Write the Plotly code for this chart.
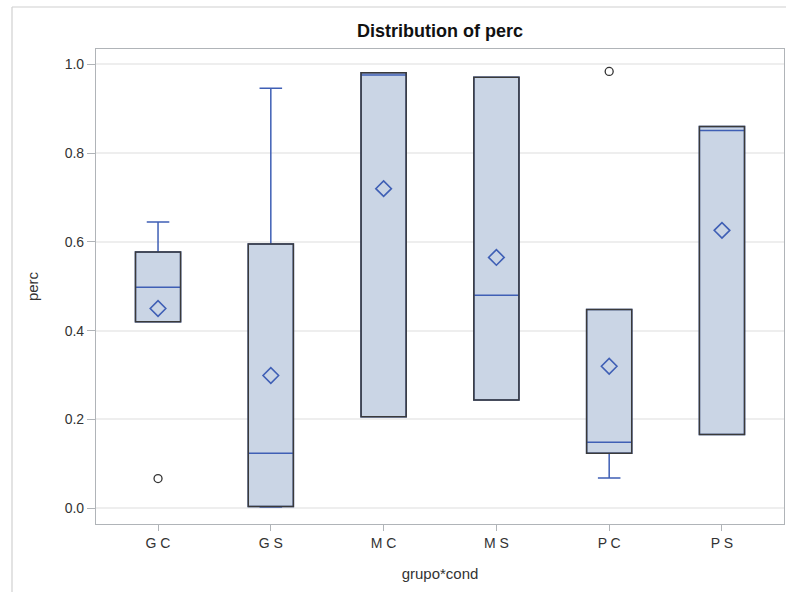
import plotly.graph_objects as go

# Summary statistics of perc per grupo*cond
groups = ["G C", "G S", "M C", "M S", "P C", "P S"]
q1 = [0.420, 0.004, 0.206, 0.244, 0.124, 0.166]
median = [0.498, 0.124, 0.976, 0.480, 0.149, 0.851]
q3 = [0.577, 0.595, 0.981, 0.971, 0.448, 0.860]
lower_fence = [0.420, 0.003, 0.206, 0.244, 0.068, 0.166]
upper_fence = [0.645, 0.946, 0.981, 0.971, 0.448, 0.860]
means = [0.450, 0.299, 0.720, 0.565, 0.320, 0.626]

# Outlying observations
outlier_groups = ["G C", "P C"]
outlier_values = [0.067, 0.984]

FONT = "Liberation Sans, Arial, sans-serif"
BLUE = "#3F5FB5"
FILL = "#CAD5E5"
EDGE = "#3A3A3A"
AXIS = "#B0B4B8"
BOX_W = 0.4

fig = go.Figure()

fig.add_trace(go.Box(
    x=groups,
    q1=q1, median=median, q3=q3,
    lowerfence=lower_fence, upperfence=upper_fence,
    width=BOX_W, whiskerwidth=0.5,
    fillcolor=FILL,
    line=dict(color=BLUE, width=1.5),
    boxpoints=False,
    showlegend=False,
))

# Mean markers
fig.add_trace(go.Scatter(
    x=groups, y=means, mode="markers",
    marker=dict(symbol="diamond-open", size=12, color=BLUE,
                line=dict(color=BLUE, width=1.6)),
    showlegend=False,
))

# Outliers
fig.add_trace(go.Scatter(
    x=outlier_groups, y=outlier_values, mode="markers",
    marker=dict(symbol="circle-open", size=8, color="#333333",
                line=dict(color="#333333", width=1.3)),
    showlegend=False,
))

# Dark outline around each box (median and whiskers stay blue)
shapes = []
for i, (lo, hi) in enumerate(zip(q1, q3)):
    shapes.append(dict(
        type="rect", xref="x", yref="y",
        x0=i - BOX_W / 2, x1=i + BOX_W / 2, y0=lo, y1=hi,
        line=dict(color=EDGE, width=1.5), fillcolor="rgba(0,0,0,0)",
        layer="above",
    ))

# Outer frame of the graph
shapes.append(dict(type="line", xref="paper", yref="paper",
                   x0=(12 - 96) / 688, x1=1.01, y0=(524 - 7) / 475, y1=(524 - 7) / 475,
                   line=dict(color="#D0D0D0", width=1.2)))
shapes.append(dict(type="line", xref="paper", yref="paper",
                   x0=(12 - 96) / 688, x1=(12 - 96) / 688, y0=(524 - 7) / 475, y1=-0.2,
                   line=dict(color="#D0D0D0", width=1.2)))

fig.update_layout(
    width=786, height=592,
    margin=dict(l=96, r=2, t=49, b=68),
    paper_bgcolor="white", plot_bgcolor="white",
    font=dict(family=FONT, size=14, color="#333333"),
    title=dict(text="<b>Distribution of perc</b>", x=0.5, xanchor="center",
               xref="paper", y=1 - 31 / 592, yanchor="middle",
               font=dict(family=FONT, size=18, color="#111111")),
    shapes=shapes,
    xaxis=dict(
        type="category", categoryorder="array", categoryarray=groups,
        range=[-0.55, 5.55],
        showline=True, mirror=True, linecolor=AXIS, linewidth=1.2,
        ticks="outside", ticklen=6, tickcolor=AXIS, tickwidth=1.2,
        showgrid=False, zeroline=False,
        tickfont=dict(family=FONT, size=14, color="#333333"),
        title=dict(text="grupo*cond", standoff=18,
                   font=dict(family=FONT, size=15, color="#333333")),
    ),
    yaxis=dict(
        range=[-0.0354, 1.0345],
        tickvals=[0.0, 0.2, 0.4, 0.6, 0.8, 1.0], tickformat=".1f",
        showline=True, mirror=True, linecolor=AXIS, linewidth=1.2,
        ticks="outside", ticklen=8, tickcolor=AXIS, tickwidth=1.2,
        showgrid=True, gridcolor="#EEEEEE", gridwidth=2,
        zeroline=False,
        tickfont=dict(family=FONT, size=14, color="#333333"),
        title=dict(text="perc", standoff=22,
                   font=dict(family=FONT, size=15, color="#333333")),
    ),
)

fig.write_html("out.html")
